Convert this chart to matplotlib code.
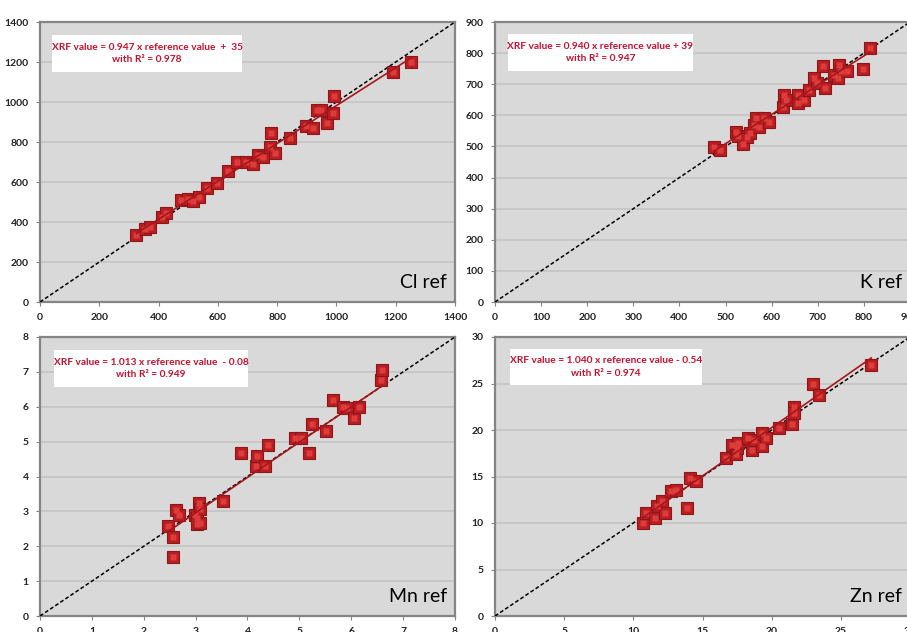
import matplotlib
matplotlib.use("Agg")
import matplotlib.pyplot as plt
from matplotlib.patches import Rectangle
import numpy as np

# --- data ------------------------------------------------------------------
cl_ref = [325, 355, 370, 410, 425, 475, 500, 517, 536, 562, 596, 635, 666, 694,
          717, 736, 753, 775, 778, 792, 845, 897, 921, 933, 949, 969, 987, 992,
          1191, 1251]
cl_xrf = [335, 365, 375, 426, 443, 509, 514, 504, 526, 568, 596, 655, 698, 698,
          690, 735, 727, 777, 844, 743, 818, 880, 869, 960, 960, 894, 944, 1032,
          1148, 1199]

k_ref = [476, 488, 522, 527, 538, 546, 553, 562, 565, 572, 583, 594, 625, 627,
         630, 658, 658, 670, 681, 691, 699, 712, 715, 735, 743, 746, 751, 763,
         799, 813]
k_xrf = [499, 489, 548, 532, 508, 530, 542, 569, 591, 564, 591, 580, 628, 666,
         650, 666, 639, 650, 682, 720, 704, 757, 687, 730, 720, 763, 741, 741,
         749, 816]

mn_ref = [2.47, 2.57, 2.57, 2.62, 2.68, 2.99, 3.02, 3.03, 3.07, 3.08, 3.08, 3.53,
          3.88, 4.17, 4.19, 4.33, 4.40, 4.91, 5.04, 5.19, 5.25, 5.52, 5.65, 5.84,
          5.91, 6.05, 6.15, 6.58, 6.60]
mn_xrf = [2.58, 2.27, 1.68, 3.05, 2.89, 2.89, 2.80, 2.65, 3.23, 3.08, 2.67, 3.29,
          4.68, 4.30, 4.59, 4.30, 4.90, 5.09, 5.09, 4.68, 5.50, 5.31, 6.19, 6.00,
          5.95, 5.69, 5.98, 6.78, 7.06]

zn_ref = [10.7, 10.9, 11.6, 11.7, 12.1, 12.3, 12.7, 13.1, 13.9, 14.1, 14.5, 16.7,
          17.1, 17.4, 17.5, 17.6, 18.3, 18.6, 18.7, 19.3, 19.3, 19.6, 20.5, 21.5,
          21.6, 21.6, 23.0, 23.4, 27.2]
zn_xrf = [9.97, 11.05, 10.5, 11.84, 12.4, 11.1, 13.4, 13.6, 11.6, 14.8, 14.5, 17.0,
          18.4, 17.4, 18.1, 18.6, 19.1, 17.9, 18.9, 19.7, 18.3, 19.1, 20.2, 20.6,
          22.5, 21.8, 25.0, 23.8, 27.0]

labels = ["Cl ref", "K ref", "Mn ref", "Zn ref"]
slopes = [0.947, 0.940, 1.013, 1.040]
intercepts = [35, 39, -0.08, -0.54]
r2 = [0.978, 0.947, 0.949, 0.974]
eq_text = [
    "XRF value = 0.947 x reference value  +  35\nwith R\u00b2 = 0.978",
    "XRF value = 0.940 x reference value + 39\nwith R\u00b2 = 0.947",
    "XRF value = 1.013 x reference value  - 0.08\nwith R\u00b2 = 0.949",
    "XRF value = 1.040 x reference value - 0.54\nwith R\u00b2 = 0.974",
]
axis_max = [1400, 900, 8, 30]
axis_step = [200, 100, 1, 5]

# --- layout (pixels of a 907x632 canvas) --------------------------------------
W, H = 907, 632
panels = [
    dict(ref=cl_ref, xrf=cl_xrf, rect=(40, 22, 415, 280), box=(0.029, 0.821, 0.458, 0.133)),
    dict(ref=k_ref, xrf=k_xrf, rect=(495, 22, 415, 280), box=(0.031, 0.825, 0.446, 0.132)),
    dict(ref=mn_ref, xrf=mn_xrf, rect=(40, 337, 415, 279), box=(0.034, 0.821, 0.467, 0.132)),
    dict(ref=zn_ref, xrf=zn_xrf, rect=(495, 337, 415, 279), box=(0.036, 0.828, 0.463, 0.129)),
]

FONT = ["Lato", "DejaVu Sans"]
RED = "#c8102e"

fig = plt.figure(figsize=(W / 100, H / 100), dpi=100)
fig.patch.set_facecolor("white")

for i, p in enumerate(panels):
    x0, y0, w, h = p["rect"]
    ax = fig.add_axes([x0 / W, 1 - (y0 + h) / H, w / W, h / H])
    ax.set_facecolor("#d9d9d9")
    top = axis_max[i]
    ticks = np.arange(0, top + axis_step[i] / 2, axis_step[i])
    ax.set_xlim(0, top)
    ax.set_ylim(0, top)
    ax.set_xticks(ticks)
    ax.set_yticks(ticks)
    ax.set_xticklabels([f"{t:g}" for t in ticks])
    ax.set_yticklabels([f"{t:g}" for t in ticks])
    ax.grid(axis="y", color="#c6c6c6", lw=1.3)
    ax.set_axisbelow(True)
    for s in ax.spines.values():
        s.set_color("#858585")
        s.set_linewidth(1.6)
    ax.tick_params(length=3, color="#858585", labelsize=7.5, pad=5,
                   labelcolor="#222222")
    for lab in ax.get_xticklabels() + ax.get_yticklabels():
        lab.set_family(FONT)
        lab.set_fontweight("bold")

    # 1:1 line
    ax.plot([0, top], [0, top], color="black", ls=(0, (2.5, 1.5)), lw=1.1, zorder=3)

    # markers (Excel-style bevelled squares)
    ref = np.array(p["ref"])
    xrf = np.array(p["xrf"])
    ax.plot(ref, xrf, ls="none", marker="s", ms=8, mfc="#b81e22",
            mec="#8e1518", mew=0.8, zorder=4)
    ax.plot(ref, xrf, ls="none", marker="s", ms=5, mfc="#dd3c3a",
            mec="none", zorder=5)

    # regression line
    xs = np.array([ref.min(), ref.max()])
    ax.plot(xs, slopes[i] * xs + intercepts[i], color="#a8161c", lw=1.2, zorder=6)

    # equation box
    bx, by, bw, bh = p["box"]
    ax.add_patch(Rectangle((bx, by), bw, bh, transform=ax.transAxes,
                           facecolor="white", edgecolor="none", zorder=7))
    ax.text(bx + bw / 2, by + bh / 2, eq_text[i], transform=ax.transAxes,
            ha="center", va="center", color=RED, fontsize=7.3,
            fontweight="bold", family=FONT, linespacing=1.5, zorder=8)

    ax.text(0.98, 0.04, labels[i], transform=ax.transAxes, ha="right",
            va="bottom", fontsize=14, family=FONT, color="black", zorder=8)

fig.savefig("out.png", dpi=100)
